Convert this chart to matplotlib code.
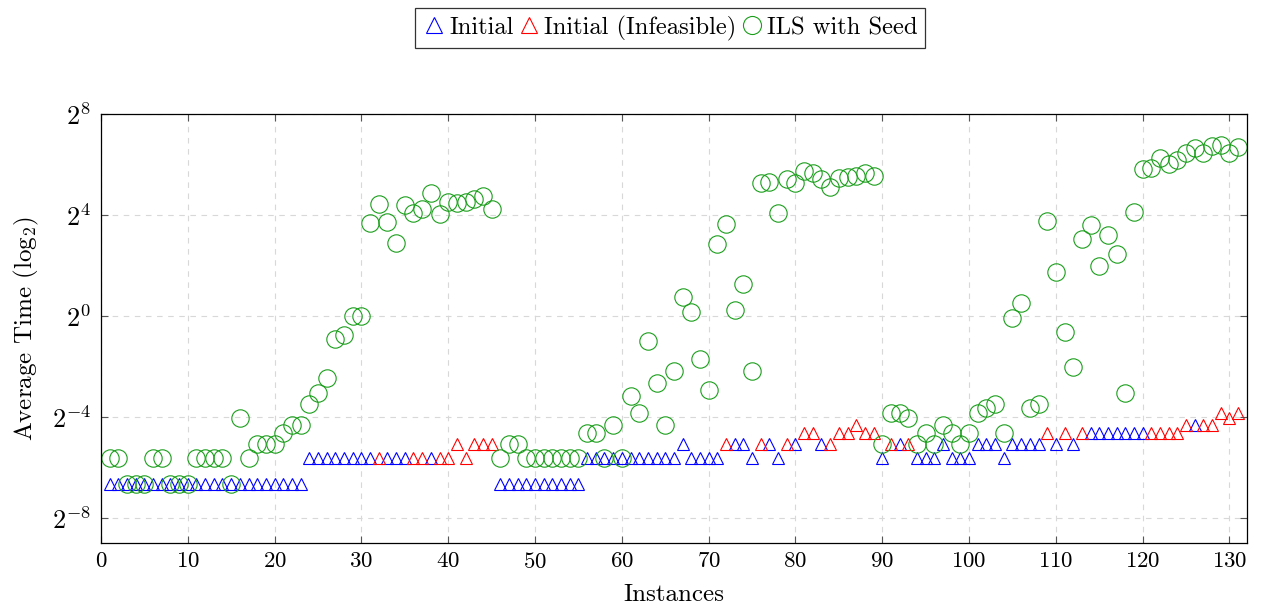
import numpy as np
import matplotlib
matplotlib.use("Agg")
import matplotlib.pyplot as plt
from matplotlib.ticker import FixedLocator, FuncFormatter

plt.rcParams['font.family'] = 'cmr10'
plt.rcParams['mathtext.fontset'] = 'cm'
plt.rcParams['axes.formatter.use_mathtext'] = True

# average time (s) of the initial solution, instance 1..131
init_time = [
    0.01, 0.01, 0.01, 0.01, 0.01, 0.01, 0.01, 0.01, 0.01, 0.01,   # 1-10
    0.01, 0.01, 0.01, 0.01, 0.01, 0.01, 0.01, 0.01, 0.01, 0.01,   # 11-20
    0.01, 0.01, 0.01, 0.02, 0.02, 0.02, 0.02, 0.02, 0.02, 0.02,   # 21-30
    0.02, 0.02, 0.02, 0.02, 0.02, 0.02, 0.02, 0.02, 0.02, 0.02,   # 31-40
    0.03, 0.02, 0.03, 0.03, 0.03, 0.01, 0.01, 0.01, 0.01, 0.01,   # 41-50
    0.01, 0.01, 0.01, 0.01, 0.01, 0.02, 0.02, 0.02, 0.02, 0.02,   # 51-60
    0.02, 0.02, 0.02, 0.02, 0.02, 0.02, 0.03, 0.02, 0.02, 0.02,   # 61-70
    0.02, 0.03, 0.03, 0.03, 0.02, 0.03, 0.03, 0.02, 0.03, 0.03,   # 71-80
    0.04, 0.04, 0.03, 0.03, 0.04, 0.04, 0.05, 0.04, 0.04, 0.02,   # 81-90
    0.03, 0.03, 0.03, 0.02, 0.02, 0.02, 0.03, 0.02, 0.02, 0.02,   # 91-100
    0.03, 0.03, 0.03, 0.02, 0.03, 0.03, 0.03, 0.03, 0.04, 0.03,   # 101-110
    0.04, 0.03, 0.04, 0.04, 0.04, 0.04, 0.04, 0.04, 0.04, 0.04,   # 111-120
    0.04, 0.04, 0.04, 0.04, 0.05, 0.05, 0.05, 0.05, 0.07, 0.06,   # 121-130
    0.07,                                                         # 131
]

# instances whose initial solution is infeasible
infeasible = [32, 36, 37, 39, 40, 41, 42, 43, 44, 45,
              72, 76, 79, 81, 82, 84, 85, 86, 87, 88, 89, 91, 93,
              109, 111, 113, 121, 122, 123, 124, 125, 127, 128, 129, 130, 131]

# average time (s) of ILS with seed
ils_time = [
    0.02, 0.02, 0.01, 0.01, 0.01, 0.02, 0.02, 0.01, 0.01, 0.01,   # 1-10
    0.02, 0.02, 0.02, 0.02, 0.01, 0.06, 0.02, 0.03, 0.03, 0.03,   # 11-20
    0.04, 0.05, 0.05, 0.09, 0.12, 0.18, 0.53, 0.6, 1.0, 1.0,      # 21-30
    12.7, 21.4, 13.3, 7.4, 21.0, 17.0, 18.9, 29.0, 16.3, 22.6,    # 31-40
    22.0, 23.0, 24.6, 27.0, 19.0, 0.02, 0.03, 0.03, 0.02, 0.02,   # 41-50
    0.02, 0.02, 0.02, 0.02, 0.02, 0.04, 0.04, 0.02, 0.05, 0.02,   # 51-60
    0.11, 0.07, 0.5, 0.16, 0.05, 0.22, 1.7, 1.1, 0.31, 0.13,      # 61-70
    7.2, 12.6, 1.18, 2.4, 0.22, 38.0, 39.0, 16.8, 42.5, 38.0,     # 71-80
    54.0, 51.0, 42.6, 34.0, 44.0, 45.0, 46.0, 50.0, 46.0, 0.03,   # 81-90
    0.07, 0.07, 0.06, 0.03, 0.04, 0.03, 0.05, 0.04, 0.03, 0.04,   # 91-100
    0.07, 0.08, 0.09, 0.04, 0.95, 1.42, 0.08, 0.09, 13.6, 3.36,   # 101-110
    0.64, 0.245, 8.3, 12.1, 3.95, 9.3, 5.4, 0.12, 17.3, 56.5,     # 111-120
    58.5, 77.0, 64.0, 73.0, 88.0, 100.0, 88.0, 106.0, 109.0, 88.0,  # 121-130
    102.0,                                                        # 131
]

inst = np.arange(1, len(init_time) + 1)
init_time = np.array(init_time)
ils_time = np.array(ils_time)
bad = np.isin(inst, infeasible)

green = (0.1, 0.62, 0.1)

fig = plt.figure(figsize=(12.62, 6.09), dpi=100)
ax = fig.add_axes([0.080, 0.108, 0.908, 0.705])

ax.plot(inst[~bad], init_time[~bad], linestyle='none', marker='^', ms=9,
        mfc='none', mec='blue', mew=0.8, label='Initial')
ax.plot(inst[bad], init_time[bad], linestyle='none', marker='^', ms=9,
        mfc='none', mec='red', mew=0.8, label='Initial (Infeasible)')
ax.plot(inst, ils_time, linestyle='none', marker='o', ms=12.5,
        mfc='none', mec=green, mew=0.8, label='ILS with Seed')

ax.set_yscale('log', base=2)
ax.set_ylim(2**-9, 2**8)
ax.set_xlim(0, 132)
ax.yaxis.set_major_locator(FixedLocator([2.0**k for k in (-8, -4, 0, 4, 8)]))
ax.yaxis.set_minor_locator(FixedLocator([]))
ax.yaxis.set_major_formatter(FuncFormatter(lambda v, p: r'$2^{%d}$' % round(np.log2(v))))
ax.set_xticks(np.arange(0, 131, 10))

ax.grid(True, color='#d8d8d8', linestyle=(0, (5, 5)), linewidth=0.8)
ax.set_axisbelow(True)
ax.tick_params(direction='in', top=True, right=True, length=5, width=0.8,
               color='#555555', labelsize=16.5, pad=6)
ax.tick_params(axis='y', labelsize=19, pad=7)
for s in ax.spines.values():
    s.set_linewidth(0.9)

ax.set_xlabel('Instances', fontsize=18, labelpad=9)
ax.set_ylabel(r'Average Time (log$_2$)', fontsize=18, labelpad=8)

leg = ax.legend(loc='center', bbox_to_anchor=(0.4965, 1.2), ncol=3, fontsize=17.7,
                frameon=True, fancybox=False, edgecolor='black',
                handlelength=1.0, handletextpad=0.1, columnspacing=0.15,
                borderpad=0.3, borderaxespad=0)
leg.get_frame().set_linewidth(0.9)
for h, size in zip(leg.legend_handles, [12, 12, 13]):
    h.set_markersize(size)

fig.savefig('out.png', dpi=100)
